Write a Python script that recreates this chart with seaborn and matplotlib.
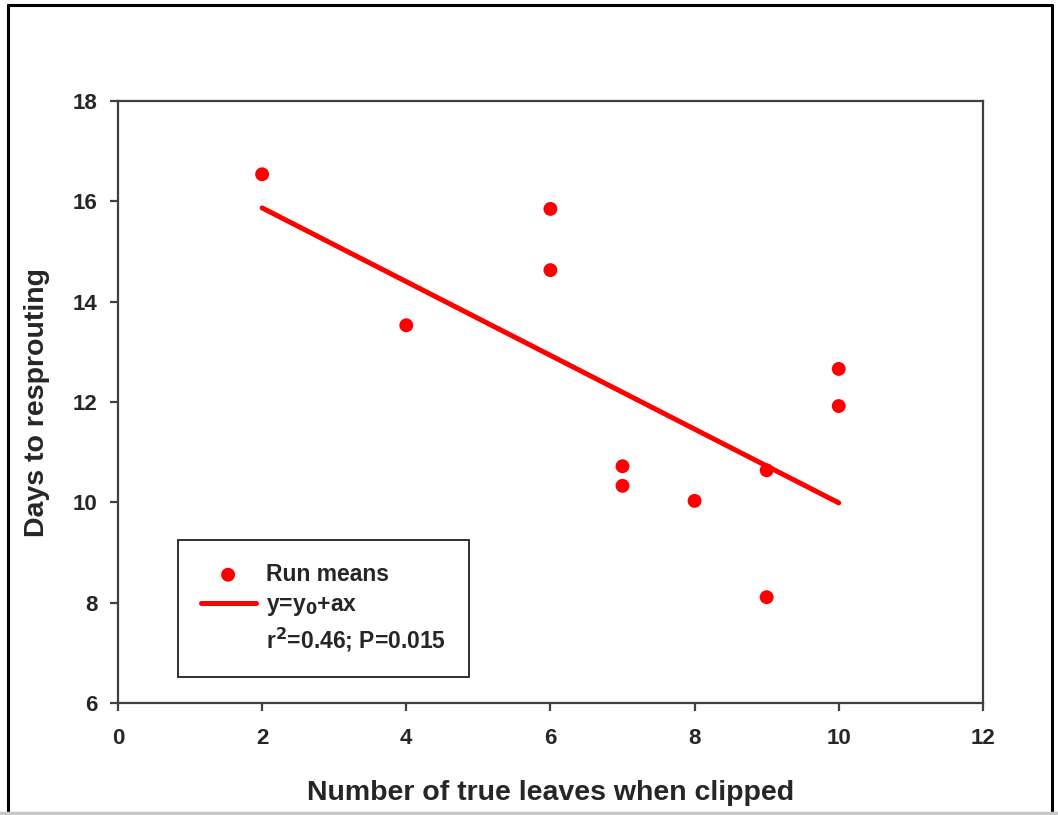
import seaborn as sns
import matplotlib.pyplot as plt
import pandas as pd
from matplotlib.lines import Line2D

# Run means
leaves = [2, 4, 6, 6, 7, 7, 8, 9, 9, 10, 10]
days = [16.54, 13.53, 15.85, 14.63, 10.72, 10.33, 10.03, 10.64, 8.11, 12.66, 11.92]

# Fitted line y = y0 + ax (end points)
fit_x = [2, 10]
fit_y = [15.87, 9.99]

x_ticks = [0, 2, 4, 6, 8, 10, 12]
y_ticks = [6, 8, 10, 12, 14, 16, 18]

df = pd.DataFrame({'leaves': leaves, 'days': days})
fit = pd.DataFrame({'leaves': fit_x, 'days': fit_y})

sns.set_style("ticks")
plt.rcParams['font.family'] = ['Liberation Sans', 'DejaVu Sans']
plt.rcParams['font.weight'] = 'bold'

fig = plt.figure(figsize=(10.58, 8.15), dpi=100)
ax = fig.add_axes([0.1115, 0.1374, 0.8175, 0.7386])

sns.scatterplot(data=df, x='leaves', y='days', ax=ax, color='#ff0000',
                s=100, edgecolor='none', label='Run means', zorder=3)
sns.lineplot(data=fit, x='leaves', y='days', ax=ax, color='#ff0000',
             linewidth=3.6, label='y=y$_0$+ax', zorder=2)

ax.set_xlim(0, 12)
ax.set_ylim(6, 18)
ax.set_xticks(x_ticks)
ax.set_yticks(y_ticks)

for side in ['left', 'bottom', 'top', 'right']:
    ax.spines[side].set_visible(True)
    ax.spines[side].set_color('#404040')
    ax.spines[side].set_linewidth(1.6)
ax.tick_params(axis='both', direction='out', length=6, width=1.6,
               color='#404040', labelsize=16, top=False, right=False)
ax.tick_params(axis='x', pad=12)
ax.tick_params(axis='y', pad=9)
for lab in ax.get_xticklabels() + ax.get_yticklabels():
    lab.set_fontweight('bold')

ax.set_xlabel('Number of true leaves when clipped', fontsize=20.5,
              fontweight='bold', labelpad=22)
ax.set_ylabel('Days to resprouting', fontsize=20.5, fontweight='bold',
              labelpad=16)

# legend with an extra text-only line for the fit statistics
handles, labels = ax.get_legend_handles_labels()
handles.append(Line2D([], [], linestyle='none', marker=None))
labels.append('r$^2$=0.46; P=0.015')
leg = ax.legend(handles, labels, loc='lower left',
                bbox_to_anchor=(0.069, 0.044), frameon=True, fancybox=False,
                edgecolor='#202020', framealpha=1, fontsize=16.5,
                handlelength=2.4, handletextpad=0.45, borderpad=1.0,
                labelspacing=0.32, borderaxespad=0)
leg.get_frame().set_linewidth(1.3)
for t in leg.get_texts():
    t.set_fontweight('bold')

# outer frame of the picture
fig.add_artist(Line2D([0.0075, 0.0075], [0.003, 0.9935], transform=fig.transFigure,
                      color='black', linewidth=2.2))
fig.add_artist(Line2D([0.0075, 0.9945], [0.9935, 0.9935], transform=fig.transFigure,
                      color='black', linewidth=2.2))
fig.add_artist(Line2D([0.9945, 0.9945], [0.003, 0.9935], transform=fig.transFigure,
                      color='black', linewidth=2.2))
fig.add_artist(Line2D([0.0, 1.0], [0.003, 0.003], transform=fig.transFigure,
                      color='#c8c8c8', linewidth=2.5))

plt.savefig('out.png', dpi=100, facecolor='white')
